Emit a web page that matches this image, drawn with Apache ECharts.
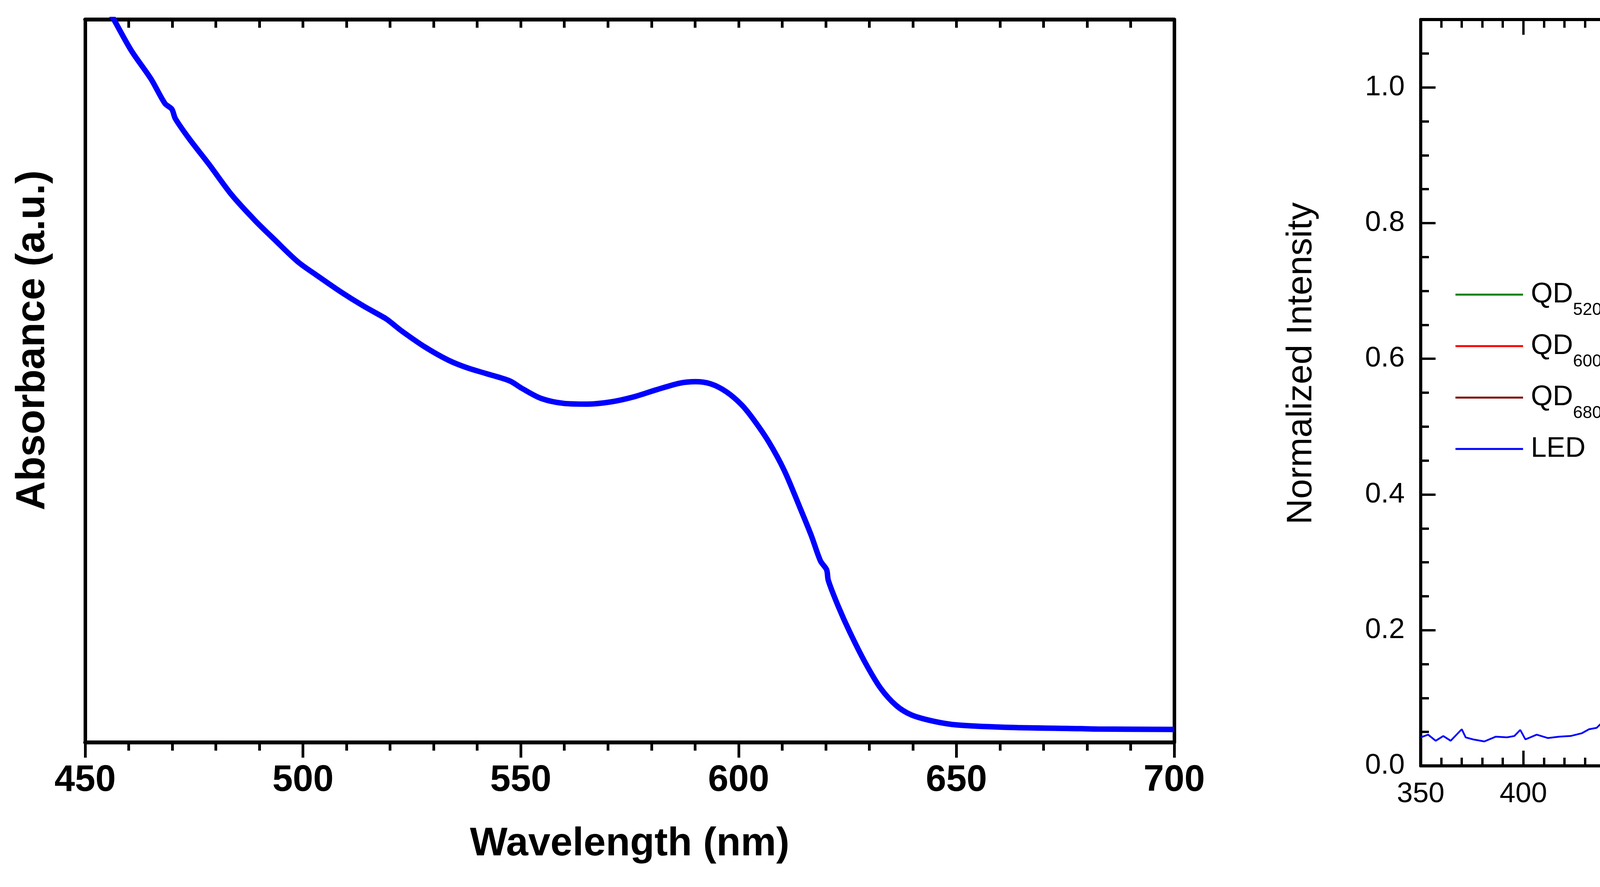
<!DOCTYPE html>
<html lang="en">
<head>
    <meta charset="UTF-8">
    <title>Absorbance and emission spectra</title>
    <script src="https://cdn.jsdelivr.net/npm/echarts@6.0.0/dist/echarts.min.js"></script>
    <style>
        html, body { margin: 0; padding: 0; background: #fff; }
        #chart { width: 6106px; height: 2270px; }
    </style>
</head>
<body>
<div id="chart"></div>

<script type="text/javascript">
    // absorbance curve (left panel), arbitrary units
    var absWl  = [450, 452, 456.6, 460.6, 465.1, 468.3, 469.9, 470.7, 473.9, 478.4, 483.7, 489, 493.4, 498.8, 503.2, 508.5, 513.8, 519.1, 520.4, 522.7, 528, 533.3, 537.8, 542.2, 547.5, 550.2, 554.6, 559.9, 565.2, 570.6, 575.9, 581.2, 586.5, 590.1, 593.6, 597.2, 600.7, 603.4, 606.9, 610.5, 614, 616.7, 618.8, 620.2, 620.6, 622.9, 625.5, 629.1, 632.6, 636.2, 639.7, 645, 650.4, 661, 678.7, 682.3, 700];
    var absVal = [1.072, 1.05, 1.0, 0.957, 0.918, 0.884, 0.876, 0.863, 0.835, 0.8, 0.757, 0.722, 0.696, 0.665, 0.646, 0.624, 0.604, 0.586, 0.58, 0.569, 0.547, 0.529, 0.518, 0.51, 0.5, 0.49, 0.476, 0.469, 0.468, 0.471, 0.478, 0.488, 0.497, 0.499, 0.496, 0.485, 0.467, 0.447, 0.416, 0.376, 0.326, 0.286, 0.251, 0.239, 0.224, 0.188, 0.153, 0.11, 0.075, 0.051, 0.038, 0.029, 0.024, 0.021, 0.019, 0.0185, 0.018];

    // emission spectra (right panel)
    var ledWl  = [350, 353.6, 357.3, 361, 364.6, 370, 371.9, 375.5, 381, 386.5, 392, 395.6, 398.5, 401, 406.5, 412, 417.5, 423, 428.4, 432, 435.7, 439.4, 443, 446.6, 448.5, 450.3, 452.1, 454, 455.8, 457.6, 459.4, 461.2, 463.1, 464.9, 466, 467.1, 468.5, 470.4, 472.2, 474, 475.8, 477.6, 479.5, 481.3, 483.1, 484.9, 486.8, 488.6, 490.4, 492.2, 494, 495.9, 497.7, 499.5, 501.3, 503.2, 505, 507.6, 510.5, 514.1, 517.8, 521.4, 525, 528.7, 532.4, 536, 539.6];
    var ledVal = [0.042, 0.046, 0.037, 0.044, 0.037, 0.054, 0.042, 0.039, 0.036, 0.043, 0.042, 0.044, 0.053, 0.039, 0.046, 0.041, 0.043, 0.044, 0.048, 0.054, 0.056, 0.067, 0.088, 0.138, 0.163, 0.213, 0.271, 0.338, 0.421, 0.521, 0.663, 0.78, 0.888, 0.972, 0.987, 1.0, 0.984, 0.938, 0.855, 0.763, 0.696, 0.638, 0.58, 0.546, 0.48, 0.446, 0.396, 0.338, 0.296, 0.263, 0.234, 0.204, 0.179, 0.158, 0.142, 0.129, 0.113, 0.104, 0.088, 0.075, 0.067, 0.06, 0.056, 0.053, 0.05, 0.046, 0.043];

    var qd520Wl  = [488.6, 490.4, 492.2, 494, 495.9, 497.7, 499.5, 501.3, 503.2, 505, 506.8, 508.6, 510.5, 512.3, 514.1, 515.9, 517.8, 519.6, 521.4, 523.2, 525, 526.9, 528.7, 530.5, 532.4, 534.2, 536, 537.8, 539.6, 541.5, 543.3, 545.1, 546.9, 548.8, 550.6, 554.2, 557.9, 561.5, 565.2, 568.8, 572.5, 576.1, 579.8, 583.4, 587];
    var qd520Val = [0.192, 0.209, 0.234, 0.254, 0.279, 0.309, 0.342, 0.396, 0.455, 0.509, 0.571, 0.63, 0.705, 0.78, 0.847, 0.905, 0.962, 0.992, 1.0, 0.992, 0.967, 0.92, 0.872, 0.797, 0.73, 0.655, 0.563, 0.48, 0.396, 0.329, 0.263, 0.221, 0.188, 0.163, 0.142, 0.113, 0.092, 0.078, 0.067, 0.063, 0.057, 0.054, 0.051, 0.052, 0.05];

    var qd600Wl  = [577.2, 577.9, 578.7, 579.4, 580.1, 581.6, 583.4, 585.2, 587, 588.9, 590.7, 592.5, 594.4, 596.2, 598, 599.8, 601.6, 603.5, 605.3, 606.4, 608.2, 610.8, 612.6, 614.4, 616.2, 618.1, 619.9, 621.7, 623.6, 625.4, 627.2, 629, 630.9, 632.7, 634.5, 636.3, 638.2, 640, 641.8, 643.6, 645.5, 647.3, 649.1, 650.9, 652.7, 654.6, 656.4, 658.2];
    var qd600Val = [0.046, 0.033, 0.058, 0.129, 0.254, 0.279, 0.338, 0.396, 0.471, 0.546, 0.63, 0.713, 0.797, 0.855, 0.905, 0.93, 0.962, 0.983, 0.996, 1.0, 0.988, 0.963, 0.913, 0.855, 0.797, 0.755, 0.663, 0.605, 0.546, 0.496, 0.446, 0.405, 0.346, 0.304, 0.271, 0.246, 0.221, 0.204, 0.184, 0.163, 0.15, 0.142, 0.138, 0.121, 0.108, 0.113, 0.096, 0.088];

    var qd680Wl  = [645.5, 647.3, 649.1, 650.9, 652.7, 654.6, 656.4, 658.2, 660, 661.9, 663.7, 665.5, 667.3, 669.2, 671, 672.8, 674.6, 676.5, 678.3, 680.1, 681.9, 683.8, 685.6, 687.4, 689.2, 691.1, 692.9, 694.7, 696.5, 698.4, 700.2, 702, 703.8, 705.7, 707.5, 709.3, 711.2, 713, 714.8, 716.6, 718.5, 720.3, 722.1, 723.9, 725.8, 727.6, 729.4, 731.2, 733.1, 734.9, 736.7, 738.5, 740.4, 742.2, 744, 745.8, 747.7, 749.5, 751.3, 753.2, 755, 756.8, 758.6, 760.5, 762.3, 764.1, 765.9, 767.8, 769.6, 771.4, 773.2, 774.3, 775.4, 776.5, 778, 779.4, 780.9, 781.6];
    var qd680Val = [0.067, 0.075, 0.088, 0.092, 0.1, 0.108, 0.117, 0.129, 0.142, 0.154, 0.171, 0.196, 0.229, 0.263, 0.304, 0.346, 0.405, 0.455, 0.513, 0.571, 0.646, 0.713, 0.78, 0.855, 0.905, 0.947, 0.975, 1.0, 0.984, 0.963, 0.922, 0.872, 0.813, 0.763, 0.696, 0.613, 0.546, 0.48, 0.413, 0.363, 0.321, 0.263, 0.229, 0.213, 0.184, 0.163, 0.146, 0.133, 0.121, 0.108, 0.117, 0.096, 0.092, 0.079, 0.088, 0.075, 0.088, 0.071, 0.079, 0.067, 0.075, 0.063, 0.071, 0.056, 0.073, 0.058, 0.075, 0.054, 0.071, 0.053, 0.067, 0.054, 0.108, 0.05, 0.067, 0.054, 0.073, 0.058];

    var seriesNames = ['QD520', 'QD600', 'QD680', 'LED'];
    var seriesColors = ['#008000', '#ff0000', '#800000', '#0000ff'];
    var peakLabels = [
        {name: 'LED', x: 468.2, y: 1.037, text: '{b|LED}', align: 'center'},
        {name: 'QD520', x: 509.6, y: 1.042, text: '{b|QD}{s|520}', align: 'left'},
        {name: 'QD600', x: 595.1, y: 1.042, text: '{b|QD}{s|600}', align: 'left'},
        {name: 'QD680', x: 680.5, y: 1.042, text: '{b|QD}{s|680}', align: 'left'}
    ];

    var FONT = "'Liberation Sans', Arial, sans-serif";

    function pairs(xs, ys) {
        return xs.map(function (x, i) { return [x, ys[i]]; });
    }

    // peak captions (with subscripts) placed through the data coordinates
    function markFor(name) {
        var items = [];
        peakLabels.forEach(function (p) {
            if (p.name === name) {
                items.push({coord: [p.x, p.y], label: {formatter: p.text, align: p.align}});
            }
        });
        return {
            symbol: 'circle',
            symbolSize: 0,
            silent: true,
            label: {
                show: true,
                position: 'inside',
                color: '#000',
                fontFamily: FONT,
                verticalAlign: 'middle',
                rich: {
                    b: {fontSize: 77, fontWeight: 'bold', lineHeight: 80, fontFamily: FONT, color: '#000'},
                    s: {fontSize: 45, fontWeight: 'bold', lineHeight: 30, padding: [81, 0, 0, 0], fontFamily: FONT, color: '#000'}
                }
            },
            data: items
        };
    }

    var emission = {
        QD520: pairs(qd520Wl, qd520Val),
        QD600: pairs(qd600Wl, qd600Val),
        QD680: pairs(qd680Wl, qd680Val),
        LED: pairs(ledWl, ledVal)
    };

    var chart = echarts.init(document.getElementById('chart'), null, {renderer: 'canvas'});

    var axisBlackL = {lineStyle: {color: '#000', width: 10}, onZero: false};
    var axisBlackR = {lineStyle: {color: '#000', width: 8}, onZero: false};

    var option = {
        animation: false,
        backgroundColor: '#fff',
        textStyle: {fontFamily: FONT},
        grid: [
            {left: 218, top: 50, width: 2788, height: 1850, outerBoundsMode: 'none', containLabel: false},
            {left: 3637, top: 50, width: 2365, height: 1910, outerBoundsMode: 'none', containLabel: false}
        ],
        legend: {
            orient: 'vertical',
            left: 3726,
            top: 692,
            padding: 0,
            itemGap: 7.7,
            itemWidth: 173,
            itemHeight: 5,
            icon: 'rect',
            data: seriesNames,
            formatter: function (name) {
                if (name === 'LED') return '{m|LED}{s| }';
                return '{m|QD}{s|' + name.slice(2) + '}';
            },
            textStyle: {
                color: '#000',
                fontFamily: FONT,
                rich: {
                    m: {fontSize: 72, lineHeight: 80, padding: [0, 0, 0, 15], fontFamily: FONT, color: '#000'},
                    s: {fontSize: 44, lineHeight: 30, padding: [80, 0, 0, 0], fontFamily: FONT, color: '#000'}
                }
            }
        },
        xAxis: [
            {
                type: 'value', gridIndex: 0, position: 'bottom', min: 450, max: 700, interval: 50,
                name: 'Wavelength (nm)', nameLocation: 'middle', nameGap: 210,
                nameTextStyle: {fontSize: 102, fontWeight: 'bold', color: '#000', fontFamily: FONT},
                axisLine: axisBlackL,
                axisTick: {show: true, inside: false, length: 39, lineStyle: {color: '#000', width: 7}},
                minorTick: {show: true, splitNumber: 5, length: 21, lineStyle: {color: '#000', width: 7}},
                axisLabel: {margin: 51, fontSize: 94, fontWeight: 'bold', color: '#000', fontFamily: FONT},
                splitLine: {show: false}
            },
            {
                type: 'value', gridIndex: 0, position: 'top', min: 450, max: 700, interval: 50,
                axisLine: axisBlackL,
                axisTick: {show: true, inside: true, length: 21, lineStyle: {color: '#000', width: 7}},
                minorTick: {show: true, splitNumber: 5, length: 21, lineStyle: {color: '#000', width: 7}},
                axisLabel: {show: false},
                splitLine: {show: false}
            },
            {
                type: 'value', gridIndex: 1, position: 'bottom', min: 350, max: 800, interval: 50,
                name: 'Wavelength (nm)', nameLocation: 'middle', nameGap: 166,
                nameTextStyle: {fontSize: 91, color: '#000', fontFamily: FONT},
                axisLine: axisBlackR,
                axisTick: {show: true, inside: true, length: 39, lineStyle: {color: '#000', width: 6}},
                minorTick: {show: true, splitNumber: 5, length: 21, lineStyle: {color: '#000', width: 6}},
                axisLabel: {margin: 36, fontSize: 73, color: '#000', fontFamily: FONT},
                splitLine: {show: false}
            },
            {
                type: 'value', gridIndex: 1, position: 'top', min: 350, max: 800, interval: 50,
                axisLine: axisBlackR,
                axisTick: {show: true, inside: true, length: 39, lineStyle: {color: '#000', width: 6}},
                minorTick: {show: true, splitNumber: 5, length: 21, lineStyle: {color: '#000', width: 6}},
                axisLabel: {show: false},
                splitLine: {show: false}
            }
        ],
        yAxis: [
            {
                type: 'value', gridIndex: 0, position: 'left', min: 0, max: 1,
                name: 'Absorbance (a.u.)', nameLocation: 'middle', nameGap: 82,
                nameTextStyle: {fontSize: 103, fontWeight: 'bold', color: '#000', fontFamily: FONT, padding: [0, 0, 0, 208]},
                axisLine: {show: true, lineStyle: {color: '#000', width: 9}, onZero: false},
                axisTick: {show: false},
                axisLabel: {show: false},
                splitLine: {show: false}
            },
            {
                type: 'value', gridIndex: 0, position: 'right', min: 0, max: 1,
                axisLine: {show: true, lineStyle: {color: '#000', width: 9}, onZero: false},
                axisTick: {show: false},
                axisLabel: {show: false},
                splitLine: {show: false}
            },
            {
                type: 'value', gridIndex: 1, position: 'left', min: 0, max: 1.1, interval: 0.2,
                name: 'Normalized Intensity', nameLocation: 'middle', nameGap: 260,
                nameTextStyle: {fontSize: 91, color: '#000', fontFamily: FONT, padding: [0, 0, 0, 150]},
                axisLine: {show: true, lineStyle: {color: '#000', width: 8}, onZero: false},
                axisTick: {show: true, inside: true, length: 38, lineStyle: {color: '#000', width: 6}},
                axisLabel: {margin: 41, fontSize: 73, color: '#000', fontFamily: FONT, showMaxLabel: false,
                    formatter: function (v) { return v.toFixed(1); }},
                splitLine: {show: false}
            },
            {
                type: 'value', gridIndex: 1, position: 'left', min: 0, max: 1.1, interval: 0.05,
                axisLine: {show: false},
                axisTick: {show: true, inside: true, length: 21, lineStyle: {color: '#000', width: 6}},
                axisLabel: {show: false},
                splitLine: {show: false}
            },
            {
                type: 'value', gridIndex: 1, position: 'right', min: 0, max: 1.1, interval: 0.2,
                axisLine: {show: true, lineStyle: {color: '#000', width: 8}, onZero: false},
                axisTick: {show: true, inside: true, length: 38, lineStyle: {color: '#000', width: 6}},
                axisLabel: {show: false},
                splitLine: {show: false}
            },
            {
                type: 'value', gridIndex: 1, position: 'right', min: 0, max: 1.1, interval: 0.05,
                axisLine: {show: false},
                axisTick: {show: true, inside: true, length: 21, lineStyle: {color: '#000', width: 6}},
                axisLabel: {show: false},
                splitLine: {show: false}
            }
        ],
        series: [
            {
                name: 'Absorbance', type: 'line', xAxisIndex: 0, yAxisIndex: 0,
                data: pairs(absWl, absVal), showSymbol: false, symbol: 'none', smooth: 0.3, clip: true,
                lineStyle: {color: '#0000ff', width: 14}, itemStyle: {color: '#0000ff'}
            }
        ].concat(seriesNames.map(function (n, i) {
            return {
                name: n, type: 'line', xAxisIndex: 2, yAxisIndex: 2,
                data: emission[n], showSymbol: false, symbol: 'none', clip: true,
                lineStyle: {color: seriesColors[i], width: 4.5}, itemStyle: {color: seriesColors[i]},
                markPoint: markFor(n)
            };
        }))
    };

    chart.setOption(option);
</script>
</body>
</html>
